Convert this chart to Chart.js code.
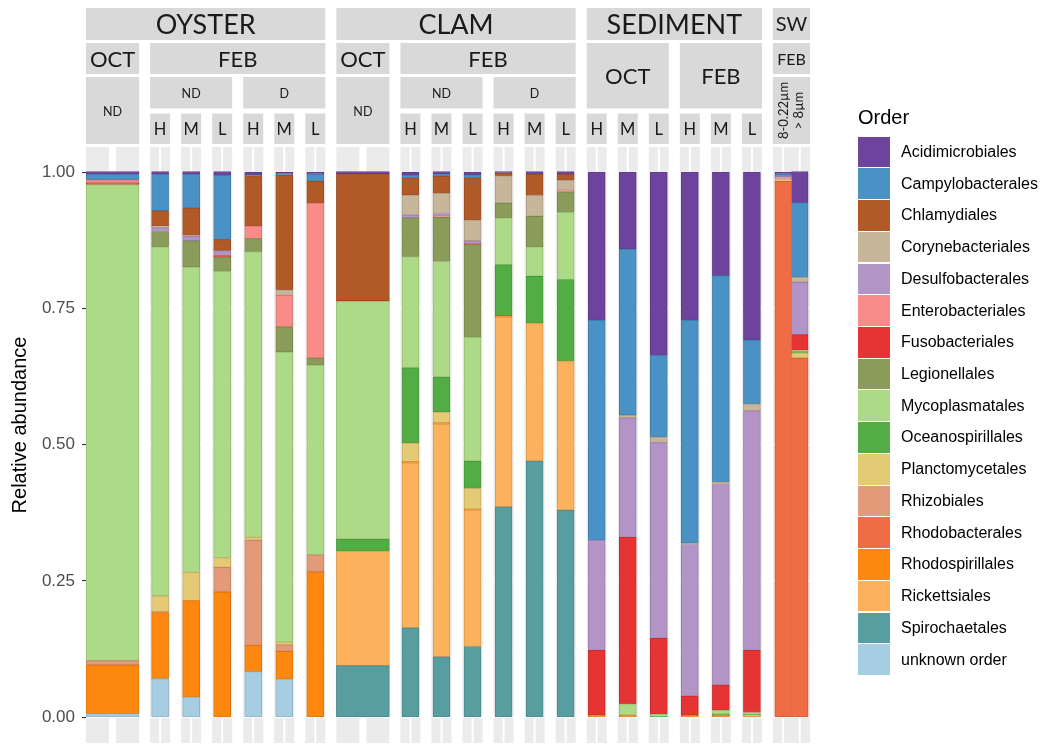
<!DOCTYPE html>
<html>
<head>
<meta charset="utf-8">
<script src="https://cdn.jsdelivr.net/npm/chart.js@4.4.1/dist/chart.umd.min.js"></script>
<style>
  html, body { margin: 0; padding: 0; background: #fff; }
  #wrap { position: relative; width: 1043px; height: 745px; overflow: hidden; }
  #chart { position: absolute; left: 0; top: 0; }
  #legend { position: absolute; left: 858px; top: 104px; font-family: "Liberation Sans", Arial, sans-serif; color: #000; }
  #legend .title { font-size: 20px; height: 32px; line-height: 26px; }
  #legend .item { display: flex; align-items: center; height: 31.74px; }
  #legend .key { width: 32px; height: 30.6px; }
  #legend .lab { margin-left: 11px; font-size: 16px; white-space: nowrap; }
</style>
</head>
<body>
<div id="wrap">
  <canvas id="chart" width="1043" height="745"></canvas>
  <div id="legend"></div>
</div>
<script>
// ---- samples (one stacked bar each), left to right ----
const samples = [
  'Oyster OCT ND',
  'Oyster FEB ND H', 'Oyster FEB ND M', 'Oyster FEB ND L',
  'Oyster FEB D H', 'Oyster FEB D M', 'Oyster FEB D L',
  'Clam OCT ND',
  'Clam FEB ND H', 'Clam FEB ND M', 'Clam FEB ND L',
  'Clam FEB D H', 'Clam FEB D M', 'Clam FEB D L',
  'Sediment OCT H', 'Sediment OCT M', 'Sediment OCT L',
  'Sediment FEB H', 'Sediment FEB M', 'Sediment FEB L',
  'SW FEB 8-0.22µm', 'SW FEB >8µm'
];

// ---- orders (legend order, top of stack first) ----
const orders = [
  'Acidimicrobiales', 'Campylobacterales', 'Chlamydiales', 'Corynebacteriales',
  'Desulfobacterales', 'Enterobacteriales', 'Fusobacteriales', 'Legionellales',
  'Mycoplasmatales', 'Oceanospirillales', 'Planctomycetales', 'Rhizobiales',
  'Rhodobacterales', 'Rhodospirillales', 'Rickettsiales', 'Spirochaetales',
  'unknown order'
];

// ---- relative abundance per order, one value per sample ----
const acidimicrobiales  = [0.005,0.005,0.005,0.007,0.005,0.004,0.004, 0.004,0.006,0.004,0.005,0.003,0.004,0.005, 0.272,0.141,0.336,0.272,0.190,0.308, 0.004,0.057];
const campylobacterales = [0.010,0.067,0.062,0.118,0.002,0.002,0.013, 0,0.005,0.005,0.006,0,0.001,0, 0.403,0.305,0.150,0.409,0.378,0.117, 0.004,0.137];
const chlamydiales      = [0,0.028,0.050,0.020,0.092,0.210,0.040, 0.233,0.031,0.031,0.077,0.005,0.039,0.011, 0,0,0,0,0,0, 0,0];
const corynebacteriales = [0,0.003,0.002,0,0,0.010,0, 0,0.037,0.037,0.038,0.050,0.038,0.018, 0,0.005,0.010,0.002,0.005,0.013, 0,0.009];
const desulfobacterales = [0,0.007,0.008,0.009,0,0,0, 0,0.005,0.005,0.005,0,0,0, 0.202,0.219,0.359,0.278,0.368,0.439, 0.003,0.096];
const enterobacteriales = [0.006,0,0,0,0.023,0.058,0.284, 0,0,0.002,0,0,0,0.003, 0,0,0,0,0,0, 0.002,0];
const fusobacteriales   = [0.003,0,0,0.003,0,0,0, 0.001,0,0,0.002,0,0,0, 0.119,0.305,0.139,0.035,0.046,0.114, 0,0.029];
const legionellales     = [0,0.028,0.048,0.026,0.024,0.046,0.013, 0,0.071,0.081,0.170,0.027,0.056,0.038, 0,0,0,0,0,0, 0,0];
const mycoplasmatales   = [0.873,0.640,0.560,0.525,0.524,0.532,0.348, 0.436,0.204,0.212,0.227,0.086,0.054,0.123, 0,0.021,0.004,0,0.007,0.003, 0,0.002];
const oceanospirillales = [0,0,0,0,0,0,0, 0.022,0.138,0.064,0.050,0.094,0.086,0.149, 0,0,0.002,0.002,0.002,0.002, 0,0.003];
const planctomycetales  = [0,0.029,0.052,0.018,0.005,0.005,0, 0,0.034,0.020,0.038,0,0,0, 0,0,0,0,0,0.002, 0.004,0.009];
const rhizobiales       = [0.008,0.002,0,0.045,0.193,0.012,0.031, 0,0,0,0,0,0,0, 0,0,0,0,0,0, 0,0];
const rhodobacterales   = [0,0,0,0,0,0,0, 0,0,0,0,0,0,0, 0,0,0,0,0,0, 0.983,0.659];
const rhodospirillales  = [0.089,0.121,0.177,0.230,0.048,0.051,0.267, 0,0.002,0.002,0.002,0.002,0,0, 0.004,0.004,0,0.002,0.004,0.002, 0,0];
const rickettsiales     = [0,0,0,0,0,0,0, 0.210,0.303,0.427,0.250,0.348,0.253,0.274, 0,0,0,0,0,0, 0,0];
const spirochaetales    = [0,0,0,0,0,0,0, 0.095,0.164,0.111,0.130,0.386,0.470,0.380, 0,0,0,0,0,0, 0,0];
const unknownOrder      = [0.007,0.071,0.037,0,0.084,0.070,0, 0,0,0,0,0,0,0, 0,0,0,0,0,0, 0,0];

const orderValues = [
  acidimicrobiales, campylobacterales, chlamydiales, corynebacteriales,
  desulfobacterales, enterobacteriales, fusobacteriales, legionellales,
  mycoplasmatales, oceanospirillales, planctomycetales, rhizobiales,
  rhodobacterales, rhodospirillales, rickettsiales, spirochaetales,
  unknownOrder
];

const orderColours = [
  '#6E439D', '#4A91C5', '#B15A28', '#C7B699', '#B394C6', '#F98B89', '#E63435',
  '#8A9B5A', '#ADDA87', '#52AE44', '#E5CA75', '#E39A79', '#EF6C45', '#FE870F',
  '#FCB15C', '#589DA0', '#A6CDE2'
];

// y axis tick labels
const yTicks = [0, 0.25, 0.5, 0.75, 1];
const yTitle = 'Relative abundance';

// ---- facet panels ----
const panelKinds = [
  'wide', 'narrow', 'narrow', 'narrow', 'narrow', 'narrow', 'narrow',
  'wide', 'narrow', 'narrow', 'narrow', 'narrow', 'narrow', 'narrow',
  'narrow', 'narrow', 'narrow', 'narrow', 'narrow', 'narrow',
  'pair'
];
const PANEL_WIDTH = { wide: 53, narrow: 20, pair: 37 };
const BAR_WIDTH = { wide: 53, narrow: 17, pair: 16.6 };
const GRID_WIDTH = { wide: 7, narrow: 2, pair: 2 };
const PANEL_GAP = 11;
const PAIR_SLOTS = [0.275, 0.725];

// strip rows (top, bottom) in pixels
const stripRows = [[8, 40], [43, 74], [77, 108.5], [113.5, 144]];
// [firstRow, lastRow, firstPanel, lastPanel, label, fontSize]
const strips = [
  [0, 0, 0, 6, 'OYSTER', 27], [0, 0, 7, 13, 'CLAM', 27], [0, 0, 14, 19, 'SEDIMENT', 27], [0, 0, 20, 20, 'SW', 20],
  [1, 1, 0, 0, 'OCT', 22], [1, 1, 1, 6, 'FEB', 22], [1, 1, 7, 7, 'OCT', 22], [1, 1, 8, 13, 'FEB', 22],
  [1, 2, 14, 16, 'OCT', 22], [1, 2, 17, 19, 'FEB', 22], [1, 1, 20, 20, 'FEB', 16],
  [2, 3, 0, 0, 'ND', 12.5], [2, 2, 1, 3, 'ND', 12.5], [2, 2, 4, 6, 'D', 12.5],
  [2, 3, 7, 7, 'ND', 12.5], [2, 2, 8, 10, 'ND', 12.5], [2, 2, 11, 13, 'D', 12.5],
  [2, 3, 20, 20, ['8-0.22µm', '> 8µm'], 13]
];
const levelLabels = ['H', 'M', 'L'];
[1, 2, 3, 4, 5, 6, 8, 9, 10, 11, 12, 13, 14, 15, 16, 17, 18, 19].forEach((p, i) => {
  strips.push([3, 3, p, p, levelLabels[i % 3], 16.5]);
});

// ---- layout of panels and bar centres on the x axis ----
const panels = [];
const sampleX = [];
const sampleKind = [];
(function buildLayout() {
  let cursor = 0, s = 0;
  panelKinds.forEach(kind => {
    const w = PANEL_WIDTH[kind];
    const p = { kind, left: cursor, right: cursor + w, centres: [] };
    const slots = kind === 'pair' ? PAIR_SLOTS : [0.5];
    slots.forEach(f => {
      const cx = cursor + w * f;
      p.centres.push(cx);
      sampleX[s] = cx;
      sampleKind[s] = kind;
      s++;
    });
    panels.push(p);
    cursor += w + PANEL_GAP;
  });
  panels.xMax = cursor - PANEL_GAP;
})();

function shade(hex, f) {
  const n = parseInt(hex.slice(1), 16);
  const r = Math.round(((n >> 16) & 255) * f), g = Math.round(((n >> 8) & 255) * f), b = Math.round((n & 255) * f);
  return `rgb(${r},${g},${b})`;
}

// one dataset per order and bar width; stacked bottom-up, so the last order goes first
const datasets = [];
for (let k = orders.length - 1; k >= 0; k--) {
  ['wide', 'narrow', 'pair'].forEach(kind => {
    const pts = [];
    samples.forEach((name, i) => {
      if (sampleKind[i] === kind && orderValues[k][i] > 0) pts.push({ x: sampleX[i], y: orderValues[k][i] });
    });
    if (!pts.length) return;
    datasets.push({
      label: orders[k],
      data: pts,
      backgroundColor: orderColours[k],
      borderColor: shade(orderColours[k], 0.87),
      borderWidth: 1,
      borderSkipped: false,
      barThickness: BAR_WIDTH[kind]
    });
  });
}

// grey panel backgrounds with white grid lines
const panelBackground = {
  id: 'panelBackground',
  beforeDatasetsDraw(chart) {
    const { ctx, chartArea, scales: { x, y } } = chart;
    ctx.save();
    panels.forEach(p => {
      const l = x.getPixelForValue(p.left), r = x.getPixelForValue(p.right);
      ctx.fillStyle = '#EBEBEB';
      ctx.fillRect(l, chartArea.top, r - l, chartArea.bottom - chartArea.top);
      ctx.strokeStyle = '#FFFFFF';
      for (let i = 0; i < yTicks.length - 1; i++) {
        const py = y.getPixelForValue((yTicks[i] + yTicks[i + 1]) / 2);
        ctx.lineWidth = 0.7;
        ctx.beginPath(); ctx.moveTo(l, py); ctx.lineTo(r, py); ctx.stroke();
      }
      yTicks.forEach(v => {
        const py = y.getPixelForValue(v);
        ctx.lineWidth = 1.4;
        ctx.beginPath(); ctx.moveTo(l, py); ctx.lineTo(r, py); ctx.stroke();
      });
      ctx.lineWidth = GRID_WIDTH[p.kind];
      p.centres.forEach(c => {
        const px = x.getPixelForValue(c);
        ctx.beginPath(); ctx.moveTo(px, chartArea.top); ctx.lineTo(px, chartArea.bottom); ctx.stroke();
      });
    });
    ctx.restore();
  }
};

// nested facet strips above the panels, plus the y axis title
const facetStrips = {
  id: 'facetStrips',
  afterDraw(chart) {
    const { ctx, scales: { x } } = chart;
    ctx.save();
    strips.forEach(([r0, r1, p0, p1, label, size]) => {
      const l = x.getPixelForValue(panels[p0].left);
      const r = x.getPixelForValue(panels[p1].right);
      const t = stripRows[r0][0], b = stripRows[r1][1];
      ctx.fillStyle = '#D9D9D9';
      ctx.fillRect(l, t, r - l, b - t);
      ctx.fillStyle = '#1A1A1A';
      ctx.font = `${size}px Lato, "Open Sans", sans-serif`;
      ctx.textAlign = 'center';
      ctx.textBaseline = 'middle';
      const cx = (l + r) / 2, cy = (t + b) / 2;
      if (Array.isArray(label)) {
        ctx.translate(cx, cy);
        ctx.rotate(-Math.PI / 2);
        const step = size * 1.15;
        label.forEach((line, i) => {
          ctx.fillText(line, 0, (i - (label.length - 1) / 2) * step);
        });
        ctx.setTransform(1, 0, 0, 1, 0, 0);
      } else {
        ctx.fillText(label, cx, cy + 1);
      }
    });
    // y axis title
    ctx.translate(20, 425);
    ctx.rotate(-Math.PI / 2);
    ctx.fillStyle = '#000';
    ctx.font = '20px "Liberation Sans", Arial, sans-serif';
    ctx.textAlign = 'center';
    ctx.textBaseline = 'middle';
    ctx.fillText(yTitle, 0, 0);
    ctx.restore();
  }
};

new Chart(document.getElementById('chart'), {
  type: 'bar',
  data: { datasets },
  plugins: [panelBackground, facetStrips],
  options: {
    responsive: false,
    animation: false,
    devicePixelRatio: 1,
    layout: { padding: { left: 0, right: 233, top: 147, bottom: 2 } },
    plugins: { legend: { display: false }, tooltip: { enabled: false } },
    scales: {
      x: {
        type: 'linear', min: 0, max: panels.xMax, stacked: true, offset: false,
        display: false, grid: { display: false }
      },
      y: {
        stacked: true, min: -0.047, max: 1.046,
        afterBuildTicks: s => { s.ticks = yTicks.map(v => ({ value: v })); },
        afterFit: s => { s.width = 86; s.paddingTop = 0; s.paddingBottom = 0; },
        ticks: {
          callback: v => Number(v).toFixed(2),
          color: '#4D4D4D',
          padding: 7,
          font: { size: 17, family: '"Liberation Sans", Arial, sans-serif' }
        },
        grid: { drawOnChartArea: false, drawTicks: true, tickLength: 4, color: '#333333', lineWidth: 1.1 },
        border: { display: false },
        title: { display: false }
      }
    }
  }
});

// legend
const legend = document.getElementById('legend');
legend.innerHTML = '<div class="title">Order</div>' + orders.map((o, k) =>
  `<div class="item"><div class="key" style="background:${orderColours[k]}"></div><div class="lab">${o}</div></div>`
).join('');
</script>
</body>
</html>
